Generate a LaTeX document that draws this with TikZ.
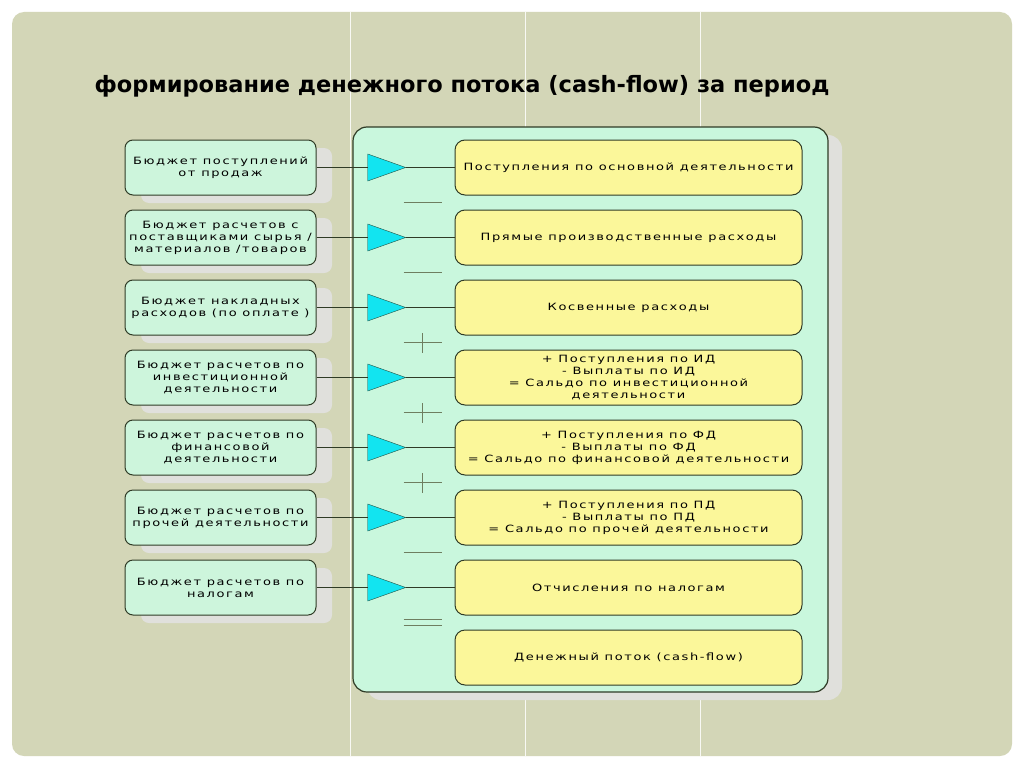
\documentclass[tikz,border=0pt]{standalone}
\usepackage{fontspec}
\setmainfont{DejaVu Sans}
\newfontfamily\titlefont{DejaVu Sans}
\newfontfamily\boxfont[FakeStretch=1.3,LetterSpace=16]{DejaVu Sans}
\usetikzlibrary{positioning,shapes.geometric,shadows,calc}

\definecolor{khaki}{HTML}{D3D6B7}
\definecolor{boxmint}{HTML}{CDF5DC}
\definecolor{panelmint}{HTML}{C9F7DD}
\definecolor{flowyellow}{HTML}{FBF79A}
\definecolor{valvecyan}{HTML}{12E4F0}
\definecolor{edgedark}{HTML}{2F3B26}
\definecolor{opgreen}{HTML}{6E7E60}
\definecolor{shadowgrey}{HTML}{E0E0DC}

\tikzset{
  budget/.style={draw=edgedark, line width=1pt, fill=boxmint, rounded corners=8pt,
    minimum width=191pt, minimum height=55pt, inner sep=2pt, align=center,
    font=\boxfont\fontsize{10}{12}\selectfont,
    drop shadow={shadow xshift=16pt, shadow yshift=-8pt, fill=shadowgrey, opacity=1}},
  flow/.style={draw=edgedark, line width=1pt, fill=flowyellow, rounded corners=10pt,
    minimum width=347pt, minimum height=55pt, inner sep=2pt, align=center,
    font=\boxfont\fontsize{10}{12}\selectfont},
  valve/.style={isosceles triangle, isosceles triangle stretches, draw=edgedark!70!teal,
    fill=valvecyan, minimum width=27pt, minimum height=38pt, inner sep=0pt},
  link/.style={draw=edgedark, line width=1.3pt},
  opsign/.style={draw=opgreen, line width=1.8pt},
}

\begin{document}
\begin{tikzpicture}[x=1pt,y=-1pt]
		\useasboundingbox (0,0) rectangle (1024,768);
		% Background
		\fill[white] (0,0) rectangle (1024,768);
		\fill[khaki, rounded corners=12pt] (12,12) rectangle (1012,756);
		\foreach \x in {350,525,700}
			\draw[white!85!khaki, line width=1pt] (\x,12) -- (\x,756);
		\fill[shadowgrey, rounded corners=14pt] (367,135) rectangle (842,700);
		\draw[edgedark, line width=1.2pt, fill=panelmint, rounded corners=14pt] (353,127) rectangle (828,692);
		
		\node[anchor=base west, font=\titlefont\bfseries\fontsize{22.5}{26}\selectfont] (title) at (91,92)
			{формирование денежного потока (cash-flow) за период};
		
		% Define nodes
		\node[budget] (B1) at (220.5,167.5) {Бюджет поступлений\\от продаж};
		\node[budget, below=14pt of B1] (B2) {Бюджет расчетов с\\поставщиками сырья /\\материалов /товаров};
		\node[budget, below=14pt of B2] (B3) {Бюджет накладных\\расходов (по оплате )};
		\node[budget, below=14pt of B3] (B4) {Бюджет расчетов по\\инвестиционной\\деятельности};
		\node[budget, below=14pt of B4] (B5) {Бюджет расчетов по\\финансовой\\деятельности};
		\node[budget, below=14pt of B5] (B6) {Бюджет расчетов по\\прочей деятельности};
		\node[budget, below=14pt of B6] (B7) {Бюджет расчетов по\\налогам};
		
		\node[flow] (Y1) at (628.5,167.5) {Поступления по основной деятельности};
		\node[flow, below=14pt of Y1] (Y2) {Прямые производственные расходы};
		\node[flow, below=14pt of Y2] (Y3) {Косвенные расходы};
		\node[flow, below=14pt of Y3] (Y4) {+ Поступления по ИД\\- Выплаты по ИД\\= Сальдо по инвестиционной\\деятельности};
		\node[flow, below=14pt of Y4] (Y5) {+ Поступления по ФД\\- Выплаты по ФД\\= Сальдо по финансовой деятельности};
		\node[flow, below=14pt of Y5] (Y6) {+ Поступления по ПД\\- Выплаты по ПД\\= Сальдо по прочей деятельности};
		\node[flow, below=14pt of Y6] (Y7) {Отчисления по налогам};
		\node[flow, below=14pt of Y7] (Y8) {Денежный поток (cash-flow)};
		
		\foreach \i in {1,...,7}
			\node[valve, right=51pt of B\i] (T\i) {};
		
		% Connect the nodes
		\foreach \i in {1,...,7} {
			\draw[link] (B\i) -- (T\i);
			\draw[link] (T\i.apex) -- (Y\i);
		}
		
		% Signs between the rows
		\foreach \i [count=\j from 2] in {1,...,7}
			\coordinate (op\i) at ($(Y\i.west)!0.5!(Y\j.west)+(-32,0)$);
		\foreach \i in {1,2,3,4,5,6,7}
			\draw[opsign] ([xshift=-19pt]op\i) -- ([xshift=19pt]op\i);
		\foreach \i in {3,4,5}
			\draw[opsign] ([yshift=-10pt]op\i) -- ([yshift=10pt]op\i);
		\draw[opsign] ([xshift=-19pt,yshift=-3pt]op7) -- ([xshift=19pt,yshift=-3pt]op7);
		\fill[panelmint] ([xshift=-20pt,yshift=-1pt]op7) rectangle ([xshift=20pt,yshift=1pt]op7);
		\draw[opsign] ([xshift=-19pt,yshift=3pt]op7) -- ([xshift=19pt,yshift=3pt]op7);
	\end{tikzpicture}
\end{document}
